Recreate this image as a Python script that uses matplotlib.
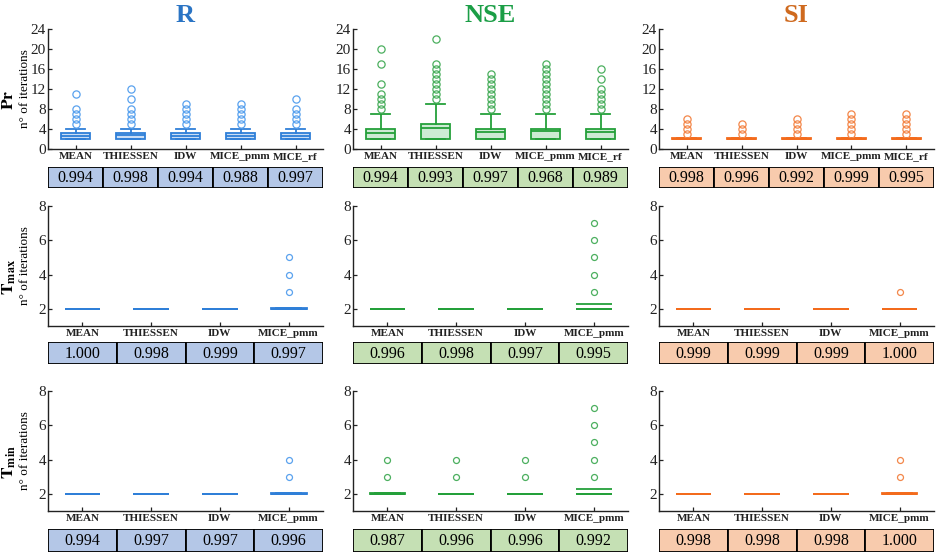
import matplotlib
matplotlib.use('Agg')
import matplotlib.pyplot as plt
from matplotlib.patches import Rectangle

plt.rcParams['font.family'] = ['Liberation Serif', 'DejaVu Serif']
plt.rcParams['mathtext.fontset'] = 'stix'

methods = ['MEAN', 'THIESSEN', 'IDW', 'MICE_pmm', 'MICE_rf']
metrics = ['R', 'NSE', 'SI']

# Pr: box stats (lower whisker = q1 = 2)
pr_R_q1 = [2, 2, 2, 2, 2]
pr_R_med = [2.6, 2.7, 2.6, 2.6, 2.6]
pr_R_q3 = [3.1, 3.1, 3.1, 3.1, 3.1]
pr_R_hi = [4, 4, 4, 4, 4]
pr_R_out = [[5, 6, 7, 8, 11], [5, 6, 7, 8, 10, 12], [5, 6, 7, 8, 9],
            [5, 6, 7, 8, 9], [5, 6, 7, 8, 10]]

pr_NSE_q1 = [2, 2, 2, 2, 2]
pr_NSE_med = [3.2, 4.2, 3.3, 3.5, 3.3]
pr_NSE_q3 = [4, 5, 4, 4, 4]
pr_NSE_hi = [7, 9, 7, 7, 7]
pr_NSE_out = [[8, 9, 10, 11, 13, 17, 20],
              [10, 11, 12, 13, 14, 15, 16, 17, 22],
              [8, 9, 10, 11, 12, 13, 14, 15],
              [8, 9, 10, 11, 12, 13, 14, 15, 16, 17],
              [8, 9, 10, 11, 12, 14, 16]]

pr_SI_q1 = [2, 2, 2, 2, 2]
pr_SI_med = [2, 2, 2, 2, 2]
pr_SI_q3 = [2.25, 2.15, 2.25, 2.25, 2.25]
pr_SI_hi = [2.25, 2.15, 2.25, 2.25, 2.25]
pr_SI_out = [[3, 4, 5, 6], [3, 4, 5], [3, 4, 5, 6], [3, 4, 5, 6, 7], [3, 4, 5, 6, 7]]

# Tmax
tmax_R_q3 = [2, 2, 2, 2.06]
tmax_R_mean = [2, 2, 2, 2]
tmax_R_out = [[], [], [], [3, 4, 5]]
tmax_NSE_q3 = [2, 2, 2, 2]
tmax_NSE_mean = [2, 2, 2, 2.3]
tmax_NSE_out = [[], [], [], [3, 4, 5, 6, 7]]
tmax_SI_q3 = [2, 2, 2, 2]
tmax_SI_mean = [2, 2, 2, 2]
tmax_SI_out = [[], [], [], [3]]

# Tmin
tmin_R_q3 = [2, 2, 2, 2.06]
tmin_R_mean = [2, 2, 2, 2]
tmin_R_out = [[], [], [], [3, 4]]
tmin_NSE_q3 = [2.05, 2, 2, 2]
tmin_NSE_mean = [2, 2, 2, 2.3]
tmin_NSE_out = [[3, 4], [3, 4], [3, 4], [3, 4, 5, 6, 7]]
tmin_SI_q3 = [2, 2, 2, 2.06]
tmin_SI_mean = [2, 2, 2, 2]
tmin_SI_out = [[], [], [], [3, 4]]

# table values under each panel
pr_tab = {'R': [0.994, 0.998, 0.994, 0.988, 0.997],
          'NSE': [0.994, 0.993, 0.997, 0.968, 0.989],
          'SI': [0.998, 0.996, 0.992, 0.999, 0.995]}
tmax_tab = {'R': [1.000, 0.998, 0.999, 0.997],
            'NSE': [0.996, 0.998, 0.997, 0.995],
            'SI': [0.999, 0.999, 0.999, 1.000]}
tmin_tab = {'R': [0.994, 0.997, 0.997, 0.996],
            'NSE': [0.987, 0.996, 0.996, 0.992],
            'SI': [0.998, 0.998, 0.998, 1.000]}

edge = {'R': '#2f7fd8', 'NSE': '#24a03a', 'SI': '#f36b1c'}
fill = {'R': '#c9ddf5', 'NSE': '#cdebd4', 'SI': '#fbd0b5'}
flier = {'R': '#5aa2ee', 'NSE': '#4caf5f', 'SI': '#f3874a'}
title_col = {'R': '#2a74c4', 'NSE': '#1b9e46', 'SI': '#cf6a1f'}
tab_col = {'R': '#b4c7e7', 'NSE': '#c5e0b4', 'SI': '#f8cbad'}

W, H = 941, 555
fig = plt.figure(figsize=(W / 100, H / 100), dpi=100)

col_left = {'R': 48, 'NSE': 353, 'SI': 659}
col_w = 275
# (axes top, axes bottom, table top, table bottom) in pixels
rows = [(29, 149, 167, 188), (206, 326, 342, 364), (391, 511, 529, 552)]


def px_axes(x0, top, w, bottom):
    return fig.add_axes([x0 / W, 1 - bottom / H, w / W, (bottom - top) / H])


def draw_panel(ax, q1, med, q3, hi, out, mean, m, ms):
    stats = []
    for i in range(len(q1)):
        s = dict(q1=q1[i], med=med[i], q3=q3[i], whislo=q1[i], whishi=hi[i], fliers=out[i])
        if mean is not None:
            s['mean'] = mean[i]
        stats.append(s)
    lw = 1.3
    ax.bxp(stats, positions=range(1, len(stats) + 1), widths=0.52, patch_artist=True,
           showmeans=mean is not None, meanline=True,
           boxprops=dict(facecolor=fill[m], edgecolor=edge[m], linewidth=lw),
           medianprops=dict(color=edge[m], linewidth=lw),
           whiskerprops=dict(color=edge[m], linewidth=lw),
           capprops=dict(color=edge[m], linewidth=lw),
           capwidths=0.36,
           meanprops=dict(color=edge[m], linestyle='-', linewidth=lw),
           flierprops=dict(marker='o', markerfacecolor='none', markeredgecolor=flier[m],
                           markersize=ms, markeredgewidth=0.9))
    ax.set_xlim(0.5, len(stats) + 0.5)
    ax.set_xticks(range(1, len(stats) + 1))
    ax.set_xticklabels(methods[:len(stats)], fontsize=8, fontweight='bold')
    for sp in ['top', 'right']:
        ax.spines[sp].set_visible(False)
    for sp in ['left', 'bottom']:
        ax.spines[sp].set_linewidth(1.0)
        ax.spines[sp].set_color('#222222')
    ax.tick_params(direction='in', length=3, width=0.9, colors='#222222')
    ax.tick_params(axis='y', labelsize=11, pad=1.5)
    ax.tick_params(axis='x', pad=2.0)


def draw_table(tax, vals, m):
    n = len(vals)
    for i, v in enumerate(vals):
        tax.add_patch(Rectangle((i + 0.5, 0), 1, 1, facecolor=tab_col[m],
                                edgecolor='black', linewidth=1.3))
        tax.text(i + 1, 0.47, '%.3f' % v, ha='center', va='center', fontsize=11.5)
    tax.set_xlim(0.5, n + 0.5)
    tax.set_ylim(0, 1)
    tax.axis('off')


pr_data = {
    'R': (pr_R_q1, pr_R_med, pr_R_q3, pr_R_hi, pr_R_out),
    'NSE': (pr_NSE_q1, pr_NSE_med, pr_NSE_q3, pr_NSE_hi, pr_NSE_out),
    'SI': (pr_SI_q1, pr_SI_med, pr_SI_q3, pr_SI_hi, pr_SI_out),
}
t_data = [
    {'R': (tmax_R_q3, tmax_R_mean, tmax_R_out),
     'NSE': (tmax_NSE_q3, tmax_NSE_mean, tmax_NSE_out),
     'SI': (tmax_SI_q3, tmax_SI_mean, tmax_SI_out)},
    {'R': (tmin_R_q3, tmin_R_mean, tmin_R_out),
     'NSE': (tmin_NSE_q3, tmin_NSE_mean, tmin_NSE_out),
     'SI': (tmin_SI_q3, tmin_SI_mean, tmin_SI_out)},
]
tabs = [pr_tab, tmax_tab, tmin_tab]

for r, (atop, abot, ttop, tbot) in enumerate(rows):
    for m in metrics:
        ax = px_axes(col_left[m], atop, col_w, abot)
        if r == 0:
            q1, med, q3, hi, out = pr_data[m]
            draw_panel(ax, q1, med, q3, hi, out, None, m, 5.2)
            ax.set_ylim(0, 24)
            ax.set_yticks(range(0, 25, 4))
            ax.set_title(m, fontsize=19, fontweight='bold', color=title_col[m], pad=5)
        else:
            q3, mean, out = t_data[r - 1][m]
            n = len(q3)
            base = [2] * n
            draw_panel(ax, base, base, q3, q3, out, mean, m, 4.3)
            ax.set_ylim(1, 8)
            ax.set_yticks([2, 4, 6, 8])
        tax = px_axes(col_left[m], ttop, col_w, tbot)
        draw_table(tax, tabs[r][m], m)

# row labels
row_names = [r'$\mathbf{Pr}$', r'$\mathbf{T_{max}}$', r'$\mathbf{T_{min}}$']
for r, (atop, abot, ttop, tbot) in enumerate(rows):
    yc = 1 - (atop + abot) / 2 / H
    fig.text(9 / W, yc - 11 / H, row_names[r], rotation=90, ha='center', va='center',
             fontsize=12.5)
    fig.text(25 / W, yc, 'n° of iterations', rotation=90, ha='center', va='center',
             fontsize=9.5)

fig.savefig('out.png', dpi=100)
